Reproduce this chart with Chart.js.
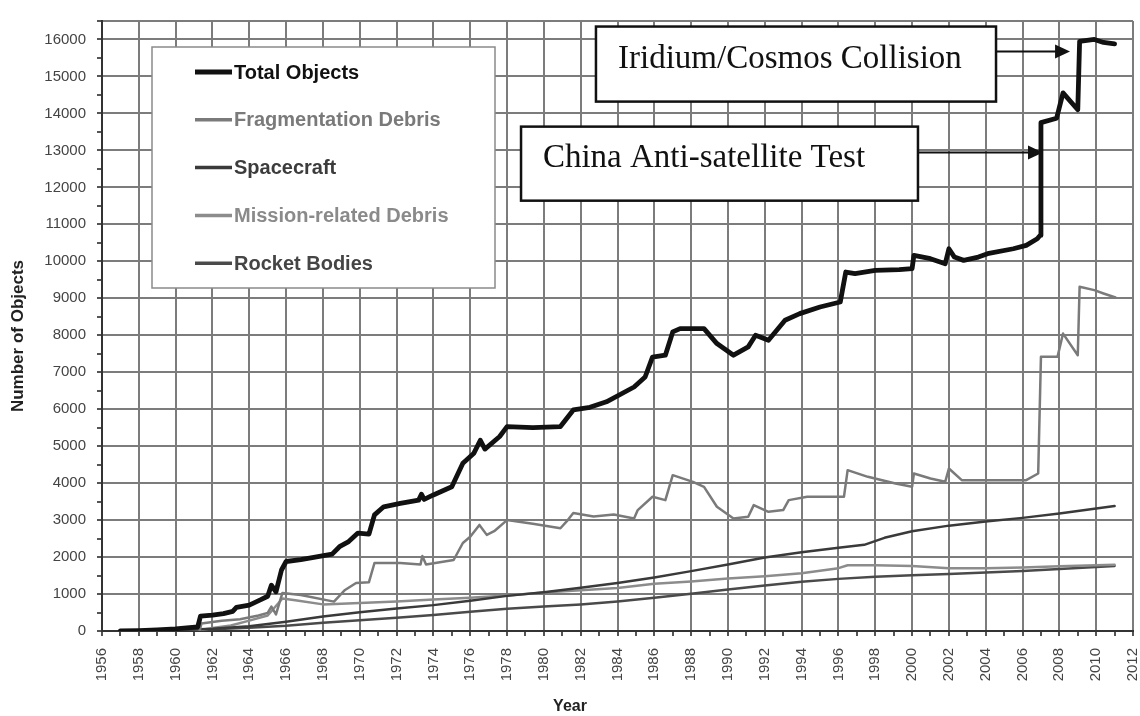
<!DOCTYPE html>
<html>
<head>
<meta charset="utf-8">
<title>Objects in Earth Orbit by Type</title>
<script src="https://cdn.jsdelivr.net/npm/chart.js@4.4.1/dist/chart.umd.min.js"></script>
<style>
    html, body { margin: 0; padding: 0; background: #fff; }
    #wrap { width: 1140px; height: 716px; }
</style>
</head>
<body>
<div id="wrap"><canvas id="debrisChart" width="1140" height="716"></canvas></div>
<script>
// Series data (year, number of objects)
const totalYears = [1957.0, 1958.0, 1959.0, 1960.0, 1961.2, 1961.35, 1962.0, 1962.6, 1963.1, 1963.3, 1964.0, 1964.6, 1965.0, 1965.2, 1965.45, 1965.75, 1966.0, 1966.8, 1967.5, 1968.5, 1968.9, 1969.4, 1969.9, 1970.5, 1970.8, 1971.3, 1972.2, 1973.2, 1973.35, 1973.5, 1974.0, 1975.0, 1975.6, 1976.2, 1976.55, 1976.8, 1977.6, 1978.0, 1979.4, 1980.9, 1981.6, 1982.5, 1983.4, 1984.9, 1985.5, 1985.9, 1986.6, 1987.0, 1987.4, 1988.7, 1989.4, 1990.3, 1991.1, 1991.5, 1992.2, 1993.1, 1993.9, 1995.0, 1996.1, 1996.4, 1996.9, 1998.0, 1999.3, 2000.0, 2000.1, 2001.0, 2001.8, 2002.0, 2002.3, 2002.8, 2003.6, 2004.1, 2005.5, 2006.2, 2006.8, 2006.95, 2007.0, 2007.85, 2008.2, 2009.0, 2009.1, 2009.9, 2010.4, 2011.0];
const totalCounts = [0, 10, 30, 60, 110, 400, 430, 470, 530, 640, 700, 840, 940, 1240, 1060, 1650, 1880, 1930, 1990, 2080, 2280, 2420, 2650, 2620, 3140, 3360, 3450, 3540, 3700, 3560, 3680, 3900, 4540, 4810, 5160, 4920, 5260, 5530, 5500, 5530, 5980, 6050, 6200, 6600, 6870, 7410, 7460, 8090, 8180, 8180, 7775, 7460, 7685, 8000, 7865, 8405, 8585, 8765, 8900, 9710, 9665, 9755, 9775, 9800, 10160, 10070, 9935, 10340, 10115, 10025, 10115, 10205, 10340, 10430, 10610, 10700, 13750, 13870, 14555, 14100, 15950, 16000, 15920, 15880];

const fragYears = [1961.3, 1961.4, 1962.5, 1963.5, 1964.5, 1965.0, 1965.2, 1965.45, 1965.8, 1966.8, 1968.6, 1969.2, 1969.8, 1970.5, 1970.8, 1972.2, 1973.3, 1973.4, 1973.6, 1975.1, 1975.6, 1976.0, 1976.5, 1976.9, 1977.3, 1978.0, 1979.4, 1980.9, 1981.3, 1981.6, 1982.7, 1983.8, 1984.9, 1985.1, 1985.9, 1986.6, 1987.0, 1988.1, 1988.7, 1989.4, 1990.3, 1991.1, 1991.4, 1992.2, 1993.0, 1993.3, 1994.3, 1996.3, 1996.5, 1997.6, 1999.1, 2000.0, 2000.1, 2001.0, 2001.8, 2002.0, 2002.7, 2004.5, 2006.2, 2006.85, 2007.0, 2007.9, 2008.2, 2009.0, 2009.1, 2009.9, 2010.4, 2011.05];
const fragCounts = [0, 200, 280, 320, 420, 490, 660, 450, 1030, 975, 795, 1110, 1300, 1320, 1840, 1840, 1800, 2030, 1800, 1920, 2380, 2550, 2870, 2600, 2700, 3000, 2900, 2780, 3000, 3190, 3100, 3150, 3045, 3270, 3630, 3540, 4215, 4035, 3900, 3360, 3045, 3090, 3405, 3225, 3270, 3540, 3630, 3630, 4350, 4170, 3990, 3900, 4260, 4125, 4035, 4395, 4080, 4080, 4080, 4260, 7415, 7415, 8045, 7460, 9310, 9220, 9130, 9020];

const spacecraftYears = [1957.8, 1960, 1962, 1964, 1966, 1968, 1970, 1972, 1974, 1976, 1978, 1980, 1982, 1984, 1986, 1988, 1990, 1992, 1994, 1996, 1997.4, 1998.5, 2000, 2002, 2004, 2006, 2008, 2011];
const spacecraftCounts = [0, 20, 60, 130, 250, 390, 510, 610, 700, 820, 950, 1050, 1170, 1300, 1450, 1620, 1800, 1990, 2130, 2250, 2330, 2520, 2700, 2850, 2960, 3060, 3180, 3380];

const missionYears = [1958, 1961.3, 1962, 1963, 1964, 1965, 1965.8, 1966.5, 1968, 1970, 1972, 1974, 1976, 1978, 1980, 1982, 1984, 1986, 1988, 1990, 1992, 1994, 1996, 1996.5, 1998, 2000, 2002, 2004, 2006, 2008, 2011];
const missionCounts = [0, 20, 80, 150, 280, 420, 880, 830, 720, 760, 800, 850, 900, 960, 1040, 1100, 1160, 1280, 1340, 1420, 1480, 1560, 1700, 1780, 1780, 1760, 1700, 1700, 1720, 1750, 1790];

const rocketYears = [1957.8, 1960, 1962, 1964, 1966, 1968, 1970, 1972, 1974, 1976, 1978, 1980, 1982, 1984, 1986, 1988, 1990, 1992, 1994, 1996, 1998, 2000, 2002, 2004, 2006, 2008, 2011];
const rocketCounts = [0, 15, 45, 90, 140, 220, 290, 360, 430, 520, 600, 660, 720, 800, 900, 1010, 1120, 1230, 1330, 1410, 1470, 1510, 1545, 1580, 1620, 1680, 1760];

const seriesLabels = ['Total Objects', 'Fragmentation Debris', 'Spacecraft', 'Mission-related Debris', 'Rocket Bodies'];

const SANS = "'Liberation Sans', Arial, sans-serif";
const SERIF = "'Liberation Serif', 'Times New Roman', serif";

function toPoints(years, counts) {
    return years.map((yr, i) => ({ x: yr, y: counts[i] }));
}

// Callout boxes, placed in chart (year / count) coordinates
const callouts = [
    { text: 'Iridium/Cosmos Collision', x1: 1982.83, x2: 2004.56, y1: 16350, y2: 14320, textX: 1984.03, textY: 15240, arrowY: 15674, arrowTo: 2008.58 },
    { text: 'China Anti-satellite Test', x1: 1978.76, x2: 2000.32, y1: 13643, y2: 11640, textX: 1979.95, textY: 12560, arrowY: 12940, arrowTo: 2007.11 }
];

const legendTextColors = ['#111', '#7a7a7a', '#3c3c3c', '#8a8a8a', '#454545'];

const overlayPlugin = {
    id: 'overlay',
    afterDraw(chart) {
        const { ctx, chartArea, scales: { x, y } } = chart;
        ctx.save();

        // Axis titles
        ctx.fillStyle = '#222';
        ctx.font = 'bold 16px ' + SANS;
        ctx.textAlign = 'center';
        ctx.textBaseline = 'middle';
        ctx.fillText('Year', 570, 707);
        ctx.save();
        ctx.translate(18, (chartArea.top + chartArea.bottom) / 2 + 10);
        ctx.rotate(-Math.PI / 2);
        ctx.font = 'bold 17px ' + SANS;
        ctx.fillText('Number of Objects', 0, 0);
        ctx.restore();

        // Legend box
        const lx = chartArea.left + 50, ly = chartArea.top + 26;
        ctx.fillStyle = '#fff';
        ctx.fillRect(lx, ly, 343, 241);
        ctx.strokeStyle = '#8a8a8a';
        ctx.lineWidth = 1.5;
        ctx.strokeRect(lx, ly, 343, 241);
        ctx.textAlign = 'left';
        ctx.font = 'bold 20px ' + SANS;
        chart.data.datasets.forEach((ds, i) => {
            const rowY = ly + 25 + i * 47.8;
            ctx.strokeStyle = ds.borderColor;
            ctx.lineWidth = i === 0 ? 5 : 3.5;
            ctx.beginPath();
            ctx.moveTo(lx + 43, rowY);
            ctx.lineTo(lx + 80, rowY);
            ctx.stroke();
            ctx.fillStyle = legendTextColors[i];
            ctx.fillText(ds.label, lx + 82, rowY + 1);
        });

        // Callouts with arrows
        callouts.forEach(c => {
            const bx1 = x.getPixelForValue(c.x1), bx2 = x.getPixelForValue(c.x2);
            const by1 = y.getPixelForValue(c.y1), by2 = y.getPixelForValue(c.y2);
            ctx.fillStyle = '#fff';
            ctx.fillRect(bx1, by1, bx2 - bx1, by2 - by1);
            ctx.strokeStyle = '#111';
            ctx.lineWidth = 2.5;
            ctx.strokeRect(bx1, by1, bx2 - bx1, by2 - by1);

            ctx.fillStyle = '#111';
            ctx.font = '33px ' + SERIF;
            ctx.textBaseline = 'alphabetic';
            ctx.fillText(c.text, x.getPixelForValue(c.textX), y.getPixelForValue(c.textY));

            const ay = y.getPixelForValue(c.arrowY);
            const tip = x.getPixelForValue(c.arrowTo);
            ctx.lineWidth = 2;
            ctx.beginPath();
            ctx.moveTo(bx2, ay);
            ctx.lineTo(tip - 12, ay);
            ctx.stroke();
            ctx.beginPath();
            ctx.moveTo(tip, ay);
            ctx.lineTo(tip - 15, ay - 7);
            ctx.lineTo(tip - 15, ay + 7);
            ctx.closePath();
            ctx.fill();
        });
        ctx.restore();
    }
};

const ctx = document.getElementById('debrisChart').getContext('2d');
const debrisChart = new Chart(ctx, {
    type: 'line',
    data: {
        datasets: [
            { label: seriesLabels[0], data: toPoints(totalYears, totalCounts), borderColor: '#111', borderWidth: 4.8 },
            { label: seriesLabels[1], data: toPoints(fragYears, fragCounts), borderColor: '#7a7a7a', borderWidth: 2.5 },
            { label: seriesLabels[2], data: toPoints(spacecraftYears, spacecraftCounts), borderColor: '#3a3a3a', borderWidth: 2.5 },
            { label: seriesLabels[3], data: toPoints(missionYears, missionCounts), borderColor: '#8c8c8c', borderWidth: 2.5 },
            { label: seriesLabels[4], data: toPoints(rocketYears, rocketCounts), borderColor: '#4a4a4a', borderWidth: 2.5 }
        ]
    },
    options: {
        responsive: false,
        animation: false,
        layout: { padding: { top: 21, right: 7, left: 0, bottom: 0 } },
        elements: {
            point: { radius: 0 },
            line: { tension: 0, borderJoinStyle: 'round', borderCapStyle: 'round' }
        },
        plugins: {
            legend: { display: false },
            tooltip: { enabled: false }
        },
        scales: {
            x: {
                type: 'linear',
                min: 1956,
                max: 2012,
                ticks: {
                    stepSize: 1,
                    autoSkip: false,
                    minRotation: 90,
                    maxRotation: 90,
                    padding: 12,
                    color: '#444',
                    font: { family: SANS, size: 15 },
                    callback: value => Math.round(value) % 2 === 0 ? String(Math.round(value)) : ''
                },
                grid: {
                    color: c => c.tick && Math.round(c.tick.value) % 2 === 0 ? '#7c7c7c' : 'rgba(0,0,0,0)',
                    lineWidth: 2,
                    tickColor: '#555',
                    tickLength: 5
                },
                border: { color: '#333', width: 2 },
                afterFit: scale => {
                    scale.height = 85;
                    scale.paddingLeft = 0;
                    scale.paddingRight = 0;
                }
            },
            y: {
                min: 0,
                max: 16500,
                ticks: {
                    stepSize: 500,
                    autoSkip: false,
                    padding: 11,
                    color: '#444',
                    font: { family: SANS, size: 15 },
                    callback: value => (value % 1000 === 0 && value <= 16000) ? String(value) : ''
                },
                grid: {
                    color: c => c.tick && (c.tick.value % 1000 === 0 || c.tick.value === 16500) ? '#7c7c7c' : 'rgba(0,0,0,0)',
                    lineWidth: 2,
                    tickColor: '#555',
                    tickLength: 5
                },
                border: { color: '#333', width: 2 },
                afterFit: scale => { scale.width = 102; }
            }
        }
    },
    plugins: [overlayPlugin]
});
</script>
</body>
</html>
